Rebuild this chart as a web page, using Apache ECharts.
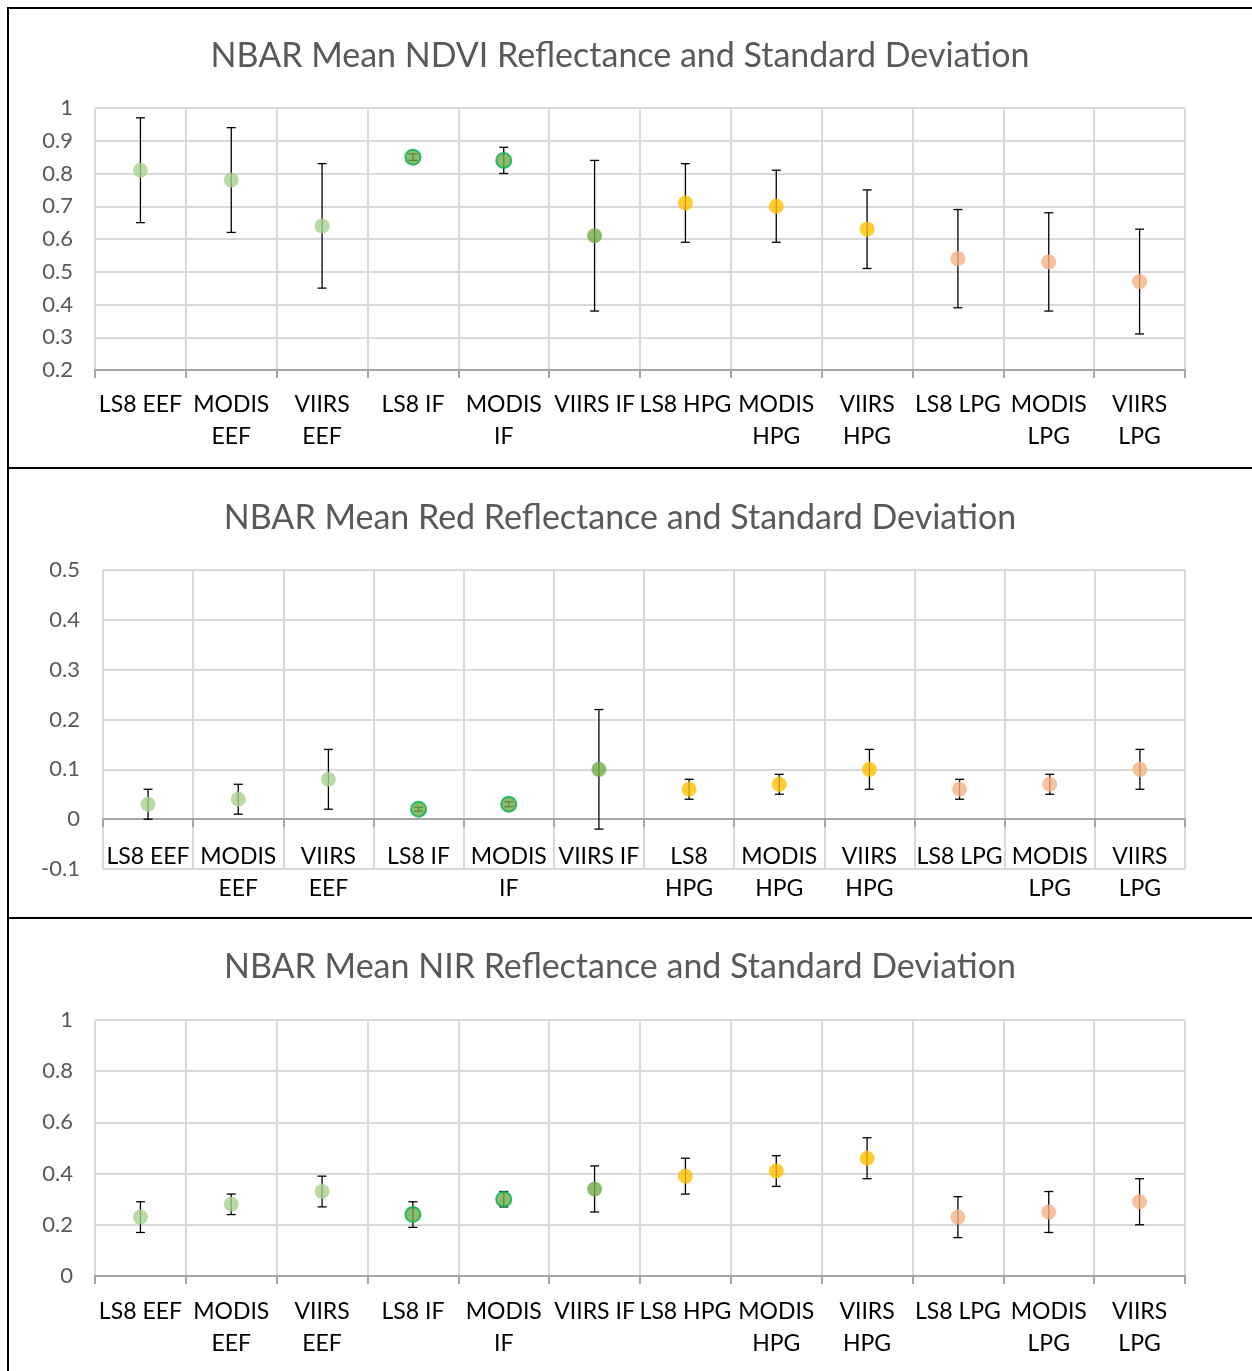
<!DOCTYPE html>
<html>
<head>
<meta charset="utf-8">
<title>NBAR Mean Reflectance and Standard Deviation</title>
<script src="https://cdn.jsdelivr.net/npm/echarts@6/dist/echarts.min.js"></script>
<style>
	html, body { margin: 0; padding: 0; background: #ffffff; }
	.page { position: relative; width: 1252px; height: 1371px; overflow: hidden; }
	#chart { position: absolute; left: 0; top: 0; width: 1252px; height: 1371px; }
	.rule { position: absolute; background: #000000; }
</style>
</head>
<body>
<div class="page">
	<div id="chart"></div>
	<!-- frame lines round the three panels -->
	<div class="rule" style="left:7px;top:7px;width:1245px;height:2px;"></div>
	<div class="rule" style="left:7px;top:7px;width:2px;height:1364px;"></div>
	<div class="rule" style="left:7px;top:467px;width:1245px;height:2px;"></div>
	<div class="rule" style="left:7px;top:917px;width:1245px;height:2px;"></div>
</div>
<script>
	// categories (x axis), same for all three panels
	const categories = ["LS8 EEF", "MODIS EEF", "VIIRS EEF", "LS8 IF", "MODIS IF", "VIIRS IF",
		"LS8 HPG", "MODIS HPG", "VIIRS HPG", "LS8 LPG", "MODIS LPG", "VIIRS LPG"];
	// tick labels as wrapped in the picture
	const tickLabelsWide = ["LS8 EEF", "MODIS\nEEF", "VIIRS\nEEF", "LS8 IF", "MODIS\nIF", "VIIRS IF",
		"LS8 HPG", "MODIS\nHPG", "VIIRS\nHPG", "LS8 LPG", "MODIS\nLPG", "VIIRS\nLPG"];
	const tickLabelsRed = ["LS8 EEF", "MODIS\nEEF", "VIIRS\nEEF", "LS8 IF", "MODIS\nIF", "VIIRS IF",
		"LS8\nHPG", "MODIS\nHPG", "VIIRS\nHPG", "LS8 LPG", "MODIS\nLPG", "VIIRS\nLPG"];

	// NDVI: mean and +/- one standard deviation
	const ndviMean = [0.81, 0.78, 0.64, 0.85, 0.84, 0.61, 0.71, 0.70, 0.63, 0.54, 0.53, 0.47];
	const ndviStd  = [0.16, 0.16, 0.19, 0.01, 0.04, 0.23, 0.12, 0.11, 0.12, 0.15, 0.15, 0.16];

	// Red
	const redMean = [0.03, 0.04, 0.08, 0.02, 0.03, 0.10, 0.06, 0.07, 0.10, 0.06, 0.07, 0.10];
	const redStd  = [0.03, 0.03, 0.06, 0.004, 0.005, 0.12, 0.02, 0.02, 0.04, 0.02, 0.02, 0.04];

	// NIR
	const nirMean = [0.23, 0.28, 0.33, 0.24, 0.30, 0.34, 0.39, 0.41, 0.46, 0.23, 0.25, 0.29];
	const nirStd  = [0.06, 0.04, 0.06, 0.05, 0.03, 0.09, 0.07, 0.06, 0.08, 0.08, 0.08, 0.09];

	const titles = [
		"NBAR Mean NDVI Reflectance and Standard Deviation",
		"NBAR Mean Red Reflectance and Standard Deviation",
		"NBAR Mean NIR Reflectance and Standard Deviation"
	];

	/* colours by land-cover group */
	const groupColor = { EEF: "#A9D18E", IF: "#70AD47", HPG: "#FFC000", LPG: "#F4B183" };
	const FONT = "Lato, 'Open Sans', sans-serif";

	function pointData(means) {
		return means.map((v, i) => {
			const name = categories[i];
			const grp = name.split(" ")[1];
			const ringed = grp === "IF" && name.indexOf("VIIRS") !== 0;
			return {
				value: [i, v],
				itemStyle: {
					color: groupColor[grp],
					borderColor: ringed ? "#00B050" : groupColor[grp],
					borderWidth: ringed ? 2 : 0
				}
			};
		});
	}

	function errData(means, stds) {
		return means.map((v, i) => [i, v - stds[i], v + stds[i]]);
	}

	function renderErr(params, api) {
		const lo = api.coord([api.value(0), api.value(1)]);
		const hi = api.coord([api.value(0), api.value(2)]);
		const cap = 4.5;
		const st = { stroke: "#000000", lineWidth: 1.3 };
		return {
			type: "group",
			children: [
				{ type: "line", shape: { x1: lo[0], y1: lo[1], x2: hi[0], y2: hi[1] }, style: st },
				{ type: "line", shape: { x1: lo[0] - cap, y1: lo[1], x2: lo[0] + cap, y2: lo[1] }, style: st },
				{ type: "line", shape: { x1: hi[0] - cap, y1: hi[1], x2: hi[0] + cap, y2: hi[1] }, style: st }
			]
		};
	}

	// offset moves the axis (line, ticks, labels) up to the zero line in the red panel
	function xAxisFor(idx, labels, margin, offset) {
		return {
			type: "category",
			gridIndex: idx,
			data: categories,
			boundaryGap: true,
			offset: offset,
			axisLine: { onZero: false, lineStyle: { color: "#A6A6A6", width: 2 } },
			axisTick: { show: true, length: 8, inside: false, lineStyle: { color: "#A6A6A6", width: 2 } },
			splitLine: { show: true, lineStyle: { color: "#D9D9D9", width: 2 } },
			axisLabel: {
				interval: 0,
				margin: margin,
				color: "#000000",
				fontFamily: FONT,
				fontSize: 23,
				lineHeight: 32,
				formatter: (v, i) => labels[i]
			}
		};
	}

	function yAxisFor(idx, min, max, step, margin) {
		return {
			type: "value",
			gridIndex: idx,
			min: min,
			max: max,
			interval: step,
			axisLine: { show: false },
			axisTick: { show: false },
			splitLine: { show: true, lineStyle: { color: "#D9D9D9", width: 2 } },
			axisLabel: {
				margin: margin,
				color: "#595959",
				fontFamily: FONT,
				fontSize: 22,
				formatter: v => String(+v.toFixed(2))
			}
		};
	}

	const sets = [[ndviMean, ndviStd], [redMean, redStd], [nirMean, nirStd]];
	const series = [];
	sets.forEach((s, k) => {
		series.push({
			type: "custom",
			xAxisIndex: k,
			yAxisIndex: k,
			renderItem: renderErr,
			encode: { x: 0, y: [1, 2] },
			data: errData(s[0], s[1]),
			z: 2,
			silent: true
		});
		series.push({
			type: "scatter",
			xAxisIndex: k,
			yAxisIndex: k,
			symbol: "circle",
			symbolSize: 15,
			data: pointData(s[0]),
			z: 3
		});
	});

	const titleStyle = { fontFamily: FONT, fontSize: 34, fontWeight: "normal", color: "#595959", lineHeight: 40 };
	const chart = echarts.init(document.getElementById("chart"), null, { renderer: "canvas" });
	chart.setOption({
		animation: false,
		backgroundColor: "transparent",
		title: [
			{ text: titles[0], left: 615, top: 31, textAlign: "center", textStyle: titleStyle },
			{ text: titles[1], left: 615, top: 493, textAlign: "center", textStyle: titleStyle },
			{ text: titles[2], left: 615, top: 942, textAlign: "center", textStyle: titleStyle }
		],
		grid: [
			{ left: 95, right: 67, top: 108, height: 262 },
			{ left: 103, right: 67, top: 570, height: 299 },
			{ left: 95, right: 67, top: 1020, height: 256 }
		],
		xAxis: [
			xAxisFor(0, tickLabelsWide, 19, 0),
			xAxisFor(1, tickLabelsRed, 21, -49.8),
			xAxisFor(2, tickLabelsWide, 20, 0)
		],
		yAxis: [
			yAxisFor(0, 0.2, 1, 0.1, 22),
			yAxisFor(1, -0.1, 0.5, 0.1, 23),
			yAxisFor(2, 0, 1, 0.2, 22)
		],
		series: series
	});
</script>
</body>
</html>
